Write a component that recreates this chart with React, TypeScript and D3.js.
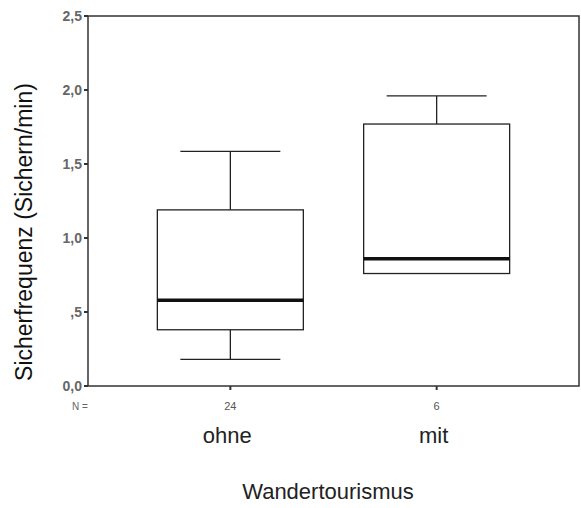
import React from "react";
import * as d3 from "d3";

const categories = ["ohne", "mit"];
const counts = ["24", "6"];
const whiskerLow = [0.18, 0.76];
const q1 = [0.38, 0.76];
const median = [0.58, 0.86];
const q3 = [1.19, 1.77];
const whiskerHigh = [1.585, 1.96];
const yTicks = [0, 0.5, 1, 1.5, 2, 2.5];
const yTickLabels = ["0,0", ",5", "1,0", "1,5", "2,0", "2,5"];

const W = 581, H = 508;
const left = 88, right = 579, top = 16, bottom = 386;

export default function App() {
  const y = d3.scaleLinear().domain([0, 2.5]).range([bottom, top]);
  const x = d3.scalePoint().domain(categories).range([left, right]).padding(0.69);
  const bw = 146, cw = 100;
  const font = "Arial, 'Liberation Sans', sans-serif";
  return (
    <svg width={W} height={H} style={{ position: "absolute", left: 0, top: 0, background: "#fff" }} fontFamily={font}>
      <rect x={left} y={top} width={right - left} height={bottom - top} fill="none" stroke="#333" strokeWidth={1.5} />
      {yTicks.map((t, i) => (
        <g key={i}>
          <line x1={left - 4} x2={left} y1={y(t)} y2={y(t)} stroke="#333" strokeWidth={2} />
          <text x={left - 6} y={y(t)} dy="0.35em" textAnchor="end" fontSize={14} fontWeight={600} fill="#666">{yTickLabels[i]}</text>
        </g>
      ))}
      {categories.map((c, i) => {
        const cx = x(c)!;
        return (
          <g key={c}>
            <line x1={cx} x2={cx} y1={bottom} y2={bottom + 4} stroke="#333" strokeWidth={2} />
            <text x={cx} y={410} textAnchor="middle" fontSize={11} fill="#555">{counts[i]}</text>
            <text x={cx - 3} y={443} textAnchor="middle" fontSize={22} fill="#222">{c}</text>
            <line x1={cx} x2={cx} y1={y(whiskerHigh[i])} y2={y(q3[i])} stroke="#222" strokeWidth={1.3} />
            <line x1={cx} x2={cx} y1={y(q1[i])} y2={y(whiskerLow[i])} stroke="#222" strokeWidth={1.3} />
            <line x1={cx - cw / 2} x2={cx + cw / 2} y1={y(whiskerHigh[i])} y2={y(whiskerHigh[i])} stroke="#222" strokeWidth={1.3} />
            {whiskerLow[i] < q1[i] && (
              <line x1={cx - cw / 2} x2={cx + cw / 2} y1={y(whiskerLow[i])} y2={y(whiskerLow[i])} stroke="#222" strokeWidth={1.3} />
            )}
            <rect x={cx - bw / 2} y={y(q3[i])} width={bw} height={y(q1[i]) - y(q3[i])} fill="#fff" stroke="#222" strokeWidth={1.3} />
            <line x1={cx - bw / 2} x2={cx + bw / 2} y1={y(median[i])} y2={y(median[i])} stroke="#111" strokeWidth={3.5} />
          </g>
        );
      })}
      <text x={80} y={410} textAnchor="middle" fontSize={10} fill="#666">N =</text>
      <text transform="translate(32,232) rotate(-90)" textAnchor="middle" fontSize={23} fill="#111">Sicherfrequenz (Sichern/min)</text>
      <text x={328} y={499} textAnchor="middle" fontSize={22} fill="#222">Wandertourismus</text>
    </svg>
  );
}
